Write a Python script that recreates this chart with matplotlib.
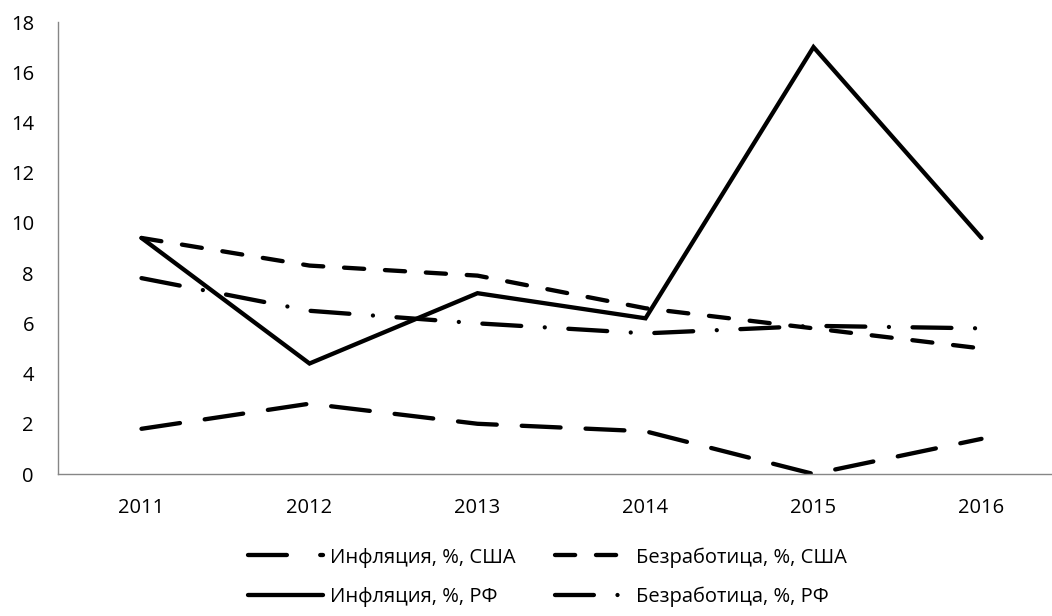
import numpy as np
import matplotlib
matplotlib.use('Agg')
from matplotlib import pyplot as plt
from matplotlib.lines import Line2D

plt.rcParams['font.family'] = ['Open Sans', 'DejaVu Sans']
plt.rcParams['lines.scale_dashes'] = False

years = ['2011', '2012', '2013', '2014', '2015', '2016']
infl_usa = [1.8, 2.8, 2.0, 1.7, 0.0, 1.4]
unemp_usa = [9.4, 8.3, 7.9, 6.6, 5.8, 5.0]
infl_rf = [9.4, 4.4, 7.2, 6.2, 17.0, 9.4]
unemp_rf = [7.8, 6.5, 6.0, 5.6, 5.9, 5.8]

labels = ['Инфляция, %, США', 'Безработица, %, США',
          'Инфляция, %, РФ', 'Безработица, %, РФ']

lw = 3.1
fs = 14.5
axcol = '#868686'

fig = plt.figure(figsize=(10.52, 6.16), dpi=100)
ax = fig.add_axes([57.5/1052, 142/616, 1008/1052, 452/616])
x = np.arange(len(years))

kw = dict(color='black', lw=lw, dash_capstyle='round', solid_capstyle='round',
          solid_joinstyle='miter')
l1, = ax.plot(x, infl_usa, dashes=(28, 18), label=labels[0], **kw)
l2, = ax.plot(x, unemp_usa, dashes=(14.5, 15), label=labels[1], **kw)
l3, = ax.plot(x, infl_rf, label=labels[2], **kw)
l4, = ax.plot(x, unemp_rf, dashes=(28, 17, 0.01, 17), label=labels[3], **kw)

ax.set_xlim(-0.5, 5.5)
ax.set_ylim(0, 18)
ax.set_yticks(np.arange(0, 19, 2))
ax.set_xticks(x)
ax.set_xticklabels(years)
ax.tick_params(axis='both', length=0, labelsize=fs)
ax.tick_params(axis='y', pad=17)
ax.tick_params(axis='x', pad=17)
for s in ['top', 'right']:
    ax.spines[s].set_visible(False)
for s in ['left', 'bottom']:
    ax.spines[s].set_color(axcol)
    ax.spines[s].set_linewidth(1.0)

# legend sample for the long dash ends with a dot, as in the original
h1 = Line2D([], [], dashes=(28, 24), **kw)

# legend: two rows, filled row by row like the original
fig.legend([h1, l3, l2, l4], [labels[0], labels[2], labels[1], labels[3]],
           ncol=2, frameon=False, fontsize=fs,
           loc='upper left', bbox_to_anchor=(238/1052, 1 - 537/616),
           borderpad=0, handlelength=3.7, handletextpad=0.35,
           columnspacing=1.95, labelspacing=0.95)

plt.savefig('out.png', dpi=100)
